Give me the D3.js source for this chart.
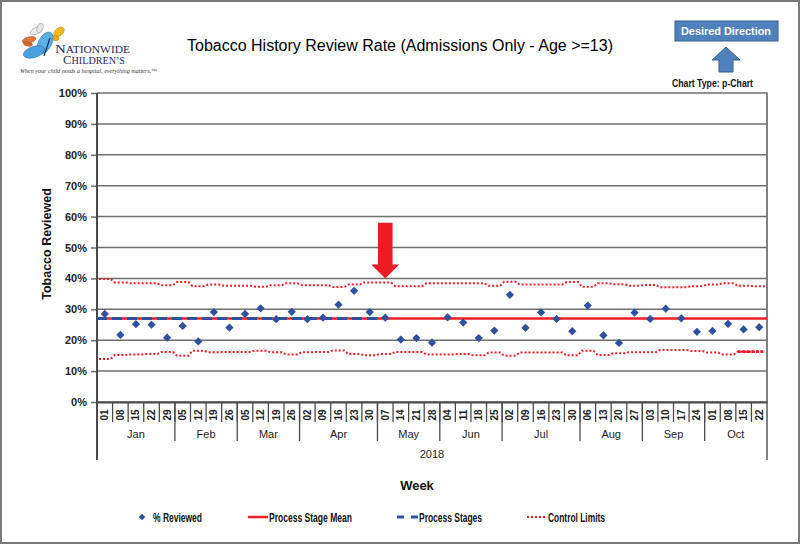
<!DOCTYPE html>
<html><head><meta charset="utf-8">
<script src="https://cdn.jsdelivr.net/npm/d3@7"></script>
<style>body{margin:0;background:#fff}svg{display:block;font-family:"Liberation Sans",Arial,sans-serif}</style>
</head><body><svg id="c" width="800" height="544"></svg>
<script>
// ---------------- DATA ----------------
const weeks = ["01","08","15","22","29","05","12","19","26","05","12","19","26","02","09","16","23","30","07","14","21","28","04","11","18","25","02","09","16","23","30","06","13","20","27","03","10","17","24","01","08","15","22"];
const months = ["Jan","Feb","Mar","Apr","May","Jun","Jul","Aug","Sep","Oct"];
const monthWeekCounts = [5,4,4,5,4,4,5,4,4,4];
const yearLabel = "2018";
const reviewed = [28.5,21.7,25.2,25.0,20.8, 24.6,19.6,29.1,24.1, 28.5,30.3,26.8,29.2, 26.8,27.3,31.5,36.0,29.1, 27.3,20.2,20.7,19.2, 27.4,25.7,20.7,23.1, 34.7,24.0,29.0,26.9,22.9, 31.2,21.6,19.1,28.9, 26.9,30.2,27.1,22.7, 23.0,25.3,23.5,24.2];
const stageMean = [27.0,27.0,27.0,27.0,27.0, 27.0,27.0,27.0,27.0, 27.0,27.0,27.0,27.0, 27.0,27.0,27.0,27.0,27.0, 27.0,27.0,27.0,27.0, 27.0,27.0,27.0,27.0, 27.0,27.0,27.0,27.0,27.0, 27.0,27.0,27.0,27.0, 27.0,27.0,27.0,27.0, 27.0,27.0,27.0,27.0];
const processStages = [27.0,27.0,27.0,27.0,27.0, 27.0,27.0,27.0,27.0, 27.0,27.0,27.0,27.0, 27.0,27.0,27.0,27.0,27.0, null,null,null,null, null,null,null,null, null,null,null,null,null, null,null,null,null, null,null,null,null, null,null,null,null];
const ucl = [39.8,38.7,38.4,38.4,37.8, 38.8,37.5,38.0,37.6, 37.6,37.3,37.8,38.4, 37.8,37.8,37.2,38.0,38.7, 38.7,37.5,37.5,38.4, 38.4,38.4,38.4,37.6, 38.9,38.0,38.0,38.0,38.8, 37.3,38.4,38.1,37.6, 37.9,37.1,37.1,37.5, 38.0,38.4,37.6,37.5];
const lcl = [13.9,15.2,15.4,15.5,16.2, 15.0,16.6,16.1,16.2, 16.2,16.6,16.1,15.4, 16.1,16.2,16.7,15.5,15.1, 15.5,16.2,16.2,15.4, 15.4,15.5,15.1,16.0, 15.0,16.0,16.0,16.0,15.1, 16.6,15.2,15.8,16.1, 16.1,16.8,16.8,16.5, 16.0,15.4,16.3,16.3];
const yTicks = [0,10,20,30,40,50,60,70,80,90,100];
const arrowWeek = 18;      // May 07 marker
const arrowRange = [58, 40];
const legendItems = ["% Reviewed","Process Stage Mean","Process Stages","Control Limits"];

// ---------------- CHART ----------------
const svg = d3.select("#c");
const L=97, R=767, T=93, B=402;
const RED="#ee1c25", BLUE="#2f4f9f", GRID="#6e6e6e", AX="#4a4a4a";

const x = d3.scaleBand().domain(d3.range(weeks.length)).range([L,R]).padding(0);
const y = d3.scaleLinear().domain([0,100]).range([B,T]);
const bw = x.bandwidth();

// outer frame
svg.append("rect").attr("x",1).attr("y",1).attr("width",798).attr("height",542)
  .attr("fill","#fff").attr("stroke","#7a7a7a").attr("stroke-width",2);

// gridlines + y axis
const yAxis = d3.axisLeft(y).tickValues(yTicks).tickFormat(d=>d+"%").tickSize(6).tickPadding(4);
const gy = svg.append("g").attr("transform",`translate(${L},0)`).call(yAxis);
gy.select(".domain").remove();
gy.selectAll(".tick line").attr("x1",0).attr("x2",-6).attr("stroke",GRID).attr("stroke-width",1.5);
gy.selectAll(".tick text").attr("font-size",11).attr("font-weight","bold").attr("fill","#222")
  .attr("font-family","Liberation Sans, Arial, sans-serif");
svg.append("g").selectAll("line").data(yTicks).join("line")
  .attr("x1",L).attr("x2",R).attr("y1",d=>y(d)).attr("y2",d=>y(d))
  .attr("stroke",GRID).attr("stroke-width",1.5);

// plot sides
svg.append("line").attr("x1",L).attr("x2",L).attr("y1",T).attr("y2",460).attr("stroke",AX).attr("stroke-width",2);
svg.append("line").attr("x1",R).attr("x2",R).attr("y1",T-0.5).attr("y2",460).attr("stroke","#808080").attr("stroke-width",2);

// x axis (category multi-level)
const xAxis = d3.axisBottom(x).tickFormat(i=>weeks[i]).tickSize(0);
const gx = svg.append("g").attr("transform",`translate(0,${B})`).call(xAxis);
gx.select(".domain").attr("stroke",AX).attr("stroke-width",2);
gx.selectAll(".tick text")
  .attr("transform","translate(0,13) rotate(-90)")
  .attr("y",0).attr("dy","0.35em").attr("text-anchor","middle")
  .attr("font-size",10).attr("font-weight","bold").attr("fill","#222")
  .attr("font-family","Liberation Sans, Arial, sans-serif");
// week dividers
svg.append("g").selectAll("line").data(d3.range(1,weeks.length)).join("line")
  .attr("x1",i=>x(i)).attr("x2",i=>x(i)).attr("y1",B).attr("y2",422)
  .attr("stroke",AX).attr("stroke-width",1.3);
// month labels & dividers
let start=0; const monthSpans=[];
monthWeekCounts.forEach((c,k)=>{monthSpans.push({m:months[k],s:start,e:start+c-1}); start+=c;});
svg.append("g").selectAll("line").data(monthSpans.slice(1)).join("line")
  .attr("x1",d=>x(d.s)).attr("x2",d=>x(d.s)).attr("y1",B).attr("y2",441)
  .attr("stroke",AX).attr("stroke-width",1.3);
svg.append("g").selectAll("text").data(monthSpans).join("text")
  .attr("x",d=>(x(d.s)+x(d.e)+bw)/2).attr("y",438).attr("text-anchor","middle")
  .attr("font-size",11).attr("fill","#222").text(d=>d.m);
svg.append("text").attr("x",(L+R)/2+0).attr("y",458).attr("text-anchor","middle")
  .attr("font-size",11).attr("fill","#222").text(yearLabel);

// axis titles
svg.append("text").attr("x",417).attr("y",490).attr("text-anchor","middle")
  .attr("font-size",13).attr("font-weight","bold").attr("fill","#111").text("Week");
svg.append("text").attr("transform","translate(51,244) rotate(-90)").attr("text-anchor","middle")
  .attr("font-size",12.5).attr("font-weight","bold").attr("fill","#111").text("Tobacco Reviewed");

// title
svg.append("text").attr("x",400).attr("y",51).attr("text-anchor","middle")
  .attr("font-size",16).attr("fill","#000").text("Tobacco History Review Rate (Admissions Only - Age >=13)");

// step-line helper
function stepPts(arr, inset){
  const pts=[];
  arr.forEach((v,i)=>{ if(v==null) return; pts.push([x(i)+inset,y(v)],[x(i)+bw-inset,y(v)]); });
  return pts;
}
const line = d3.line();

// control limits
[ucl,lcl].forEach(arr=>{
  svg.append("path").attr("d",line(stepPts(arr,2))).attr("fill","none")
    .attr("stroke",RED).attr("stroke-width",2).attr("stroke-dasharray","2,2");
});
// heavier dots on the last LCL weeks, as in the reference
svg.append("path").attr("d",line(stepPts(lcl.map((v,i)=>i>=lcl.length-2?v:null),2))).attr("fill","none")
  .attr("stroke",RED).attr("stroke-width",2.8).attr("stroke-dasharray","3,1.5");

// mean
function edgePts(arr){
  const pts=[]; arr.forEach((v,i)=>{ if(v==null) return; pts.push([x(i),y(v)],[x(i)+bw,y(v)]); }); return pts;
}
svg.append("path").attr("d",line(edgePts(stageMean))).attr("fill","none").attr("stroke",RED).attr("stroke-width",2.5);
svg.append("path").attr("d",line(edgePts(processStages))).attr("fill","none").attr("stroke",BLUE)
  .attr("stroke-width",3).attr("stroke-dasharray","10,5");

// points
const diamond = d3.symbol(d3.symbolSquare, 34);
svg.append("g").selectAll("path").data(reviewed).join("path")
  .attr("d",diamond).attr("transform",(v,i)=>`translate(${x(i)+bw/2},${y(v)}) rotate(45)`)
  .attr("fill",BLUE);

// red arrow
{
  const cx = x(arrowWeek)+bw/2, yt=y(arrowRange[0]), yb=y(arrowRange[1]), yh=yb-14;
  svg.append("path").attr("d",`M${cx-7.3},${yt}H${cx+7.3}V${yh}H${cx+14}L${cx},${yb}L${cx-14},${yh}H${cx-7.3}Z`)
    .attr("fill",RED);
}

// legend
const lg = svg.append("g").attr("font-size",12.5).attr("font-weight","bold").attr("fill","#111");
function ltext(xp,w,t){ lg.append("text").attr("x",xp).attr("y",521.5).attr("textLength",w).attr("lengthAdjust","spacingAndGlyphs").text(t); }
lg.append("path").attr("d",d3.symbol(d3.symbolSquare,22)).attr("transform","translate(142,517) rotate(45)").attr("fill",BLUE);
ltext(153,49,legendItems[0]);
lg.append("line").attr("x1",248).attr("x2",268).attr("y1",517).attr("y2",517).attr("stroke",RED).attr("stroke-width",2.5);
ltext(269,83,legendItems[1]);
lg.append("line").attr("x1",397).attr("x2",419).attr("y1",517).attr("y2",517).attr("stroke",BLUE).attr("stroke-width",3).attr("stroke-dasharray","7,7");
ltext(419,63,legendItems[2]);
lg.append("line").attr("x1",527).attr("x2",547).attr("y1",517).attr("y2",517).attr("stroke",RED).attr("stroke-width",2).attr("stroke-dasharray","2,2");
ltext(548,57,legendItems[3]);

// desired direction box
svg.append("rect").attr("x",675).attr("y",21).attr("width",103).attr("height",20)
  .attr("fill","#4f81bd").attr("stroke","#385d8a").attr("stroke-width",1);
svg.append("text").attr("x",681).attr("y",35).attr("font-size",11).attr("textLength",90).attr("lengthAdjust","spacingAndGlyphs")
  .attr("font-weight","bold").attr("fill","#fff").text("Desired Direction");
svg.append("path").attr("d","M726,47L740,60H733V72H719V60H712Z").attr("fill","#4f81bd").attr("stroke","#385d8a").attr("stroke-width",1);
svg.append("text").attr("x",672).attr("y",86.5).attr("font-size",11).attr("textLength",81).attr("lengthAdjust","spacingAndGlyphs")
  .attr("font-weight","bold").attr("fill","#111").text("Chart Type: p-Chart");

// logo
const lo = svg.append("g");
function wing(cx,cy,rx,ry,rot,fill,stroke){
  lo.append("ellipse").attr("cx",0).attr("cy",0).attr("rx",rx).attr("ry",ry)
    .attr("transform",`translate(${cx},${cy}) rotate(${rot})`).attr("fill",fill).attr("stroke",stroke).attr("stroke-width",0.6);
}
wing(36,31,6,3.2,-25,"#f2f2f2","#999"); wing(40,28,5,2.8,-70,"#e6e6e6","#999");
wing(29,40,7,3,-15,"#e0783a","#b0502a"); wing(28,44,4.5,2,10,"#d0682a","#b0502a");
wing(59,32,6,3.8,-40,"#f6b820","#c98a10"); wing(55,38,4,2.5,10,"#f0a818","#c98a10");
wing(45,43,12,6.5,-62,"#5bb0e6","#2a78b8"); wing(34,52,11,5.5,-18,"#4aa0dc","#2a78b8");
lo.append("line").attr("x1",50).attr("y1",38).attr("x2",44).attr("y2",56).attr("stroke","#1b2a5a").attr("stroke-width",1.2);
lo.append("text").attr("x",55).attr("y",53).attr("font-family","Liberation Serif, serif").attr("fill","#1b2a5a")
  .attr("textLength",75).attr("lengthAdjust","spacingAndGlyphs")
  .html('<tspan font-size="13">N</tspan><tspan font-size="10">ATIONWIDE</tspan>');
lo.append("text").attr("x",63).attr("y",64).attr("font-family","Liberation Serif, serif").attr("fill","#1b2a5a")
  .attr("textLength",62).attr("lengthAdjust","spacingAndGlyphs")
  .html('<tspan font-size="12">C</tspan><tspan font-size="9.5">HILDREN\u2019S</tspan>');
lo.append("text").attr("x",20).attr("y",72.5).attr("font-family","Liberation Serif, serif").attr("font-style","italic")
  .attr("font-size",5.5).attr("fill","#333").attr("textLength",137).attr("lengthAdjust","spacingAndGlyphs")
  .text("When your child needs a hospital, everything matters.\u2122");
</script></body></html>
